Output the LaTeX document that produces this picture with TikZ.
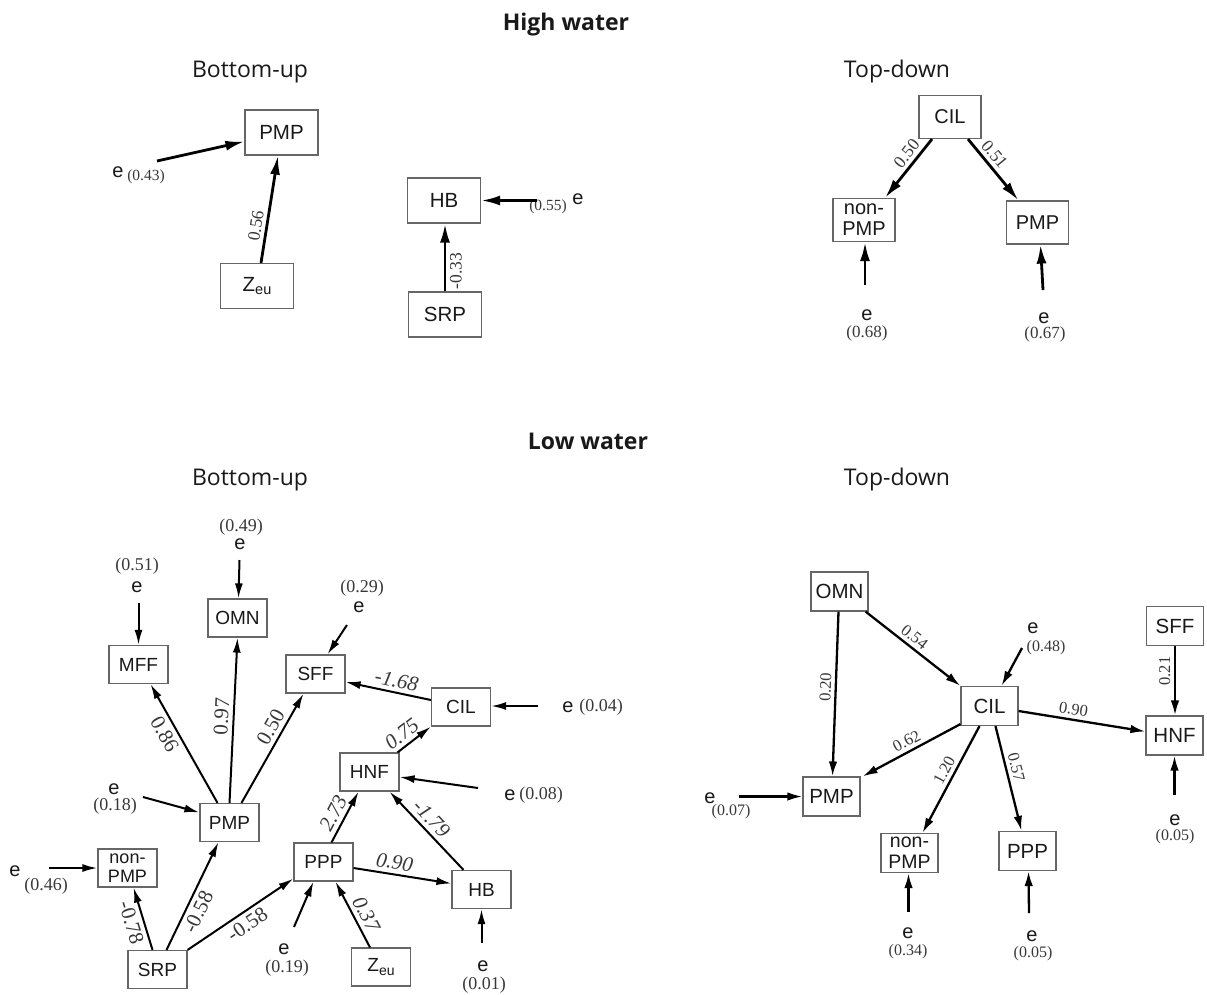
\documentclass[tikz,border=0pt]{standalone}
\usepackage{fontspec}
\setmainfont{Liberation Sans}
\newfontfamily\serifnum{Liberation Serif}
\newfontfamily\titlef{Open Sans}
\usetikzlibrary{arrows.meta,calc}
\definecolor{boxgray}{gray}{0.4}
\definecolor{ink}{gray}{0.1}
\definecolor{numgray}{gray}{0.22}
\begin{document}
\begin{tikzpicture}[x=1pt,y=-1pt,
  box/.style={draw=boxgray,line width=1.2pt,inner sep=0pt,text=ink,align=center},
  boxT/.style={box,minimum width=73pt,minimum height=45pt,font=\fontsize{20.5}{20}\selectfont},
  boxTR/.style={box,minimum width=62pt,minimum height=43pt,font=\fontsize{20}{21}\selectfont},
  boxBL/.style={box,minimum width=59pt,minimum height=38pt,font=\fontsize{19}{19}\selectfont},
  boxBR/.style={box,minimum width=57pt,minimum height=39pt,font=\fontsize{20.5}{20.5}\selectfont},
  arT/.style={line width=2.8pt,-{Latex[length=19pt,width=10pt]}},
  arBL/.style={line width=2pt,-{Latex[length=15pt,width=8pt]}},
  arBR/.style={line width=2.3pt,-{Latex[length=15pt,width=8.5pt]}},
  etxt/.style={font=\fontsize{20}{20}\selectfont,text=ink,inner sep=0pt},
  valT/.style={font=\serifnum\fontsize{15.5}{15.5}\selectfont,text=numgray,inner sep=0pt},
  valTR/.style={font=\serifnum\fontsize{17}{17}\selectfont,text=numgray,inner sep=0pt},
  valBL/.style={font=\serifnum\fontsize{18}{18}\selectfont,text=numgray,inner sep=0pt},
  valBR/.style={font=\serifnum\fontsize{16}{16}\selectfont,text=numgray,inner sep=0pt},
  labT/.style={font=\serifnum\fontsize{17.5}{17.5}\selectfont,text=numgray,sloped,inner sep=3.5pt},
  labBL/.style={font=\serifnum\fontsize{21}{21}\selectfont,text=numgray,sloped,inner sep=4pt},
  labBLi/.style={font=\serifnum\itshape\fontsize{21}{21}\selectfont,text=numgray,sloped,inner sep=4pt},
  labBR/.style={font=\serifnum\fontsize{16.5}{16.5}\selectfont,text=numgray,sloped,inner sep=3.5pt},
  ttl/.style={font=\titlef\fontsize{23}{23}\selectfont,text=ink,anchor=base,inner sep=0pt},
  ttlb/.style={font=\titlef\bfseries\fontsize{23}{23}\selectfont,text=ink,anchor=base,inner sep=0pt}
]
\useasboundingbox[fill=white] (0,0) rectangle (1207,994);

% ---------- titles ----------
\node[ttlb] (hw) at (566,30) {High water};
\node[ttl] (bu1) at (250,77) {Bottom-up};
\node[ttl] (td1) at (897,77) {Top-down};
\node[ttlb] (lw) at (588,449) {Low water};
\node[ttl] (bu2) at (250,485) {Bottom-up};
\node[ttl] (td2) at (897,485) {Top-down};

% ---------- High water, bottom-up ----------
\node[boxT] (tlPMP) at (281.5,132.5) {PMP};
\node[boxT] (tlZ) at (257,286) {Z\raisebox{-0.35ex}{\fontsize{14.5}{14.5}\selectfont eu}};
\node[boxT] (tlHB) at (444,200.5) {HB};
\node[boxT] (tlSRP) at (445,314.5) {SRP};
\coordinate (eTL1) at (157,161);
\coordinate (eTL2) at (537,200.5);
\node[etxt] (eTL1t) at (118,172) {e};
\node[valT] (eTL1v) at (146,177) {(0.43)};
\node[etxt] (eTL2t) at (578,199) {e};
\node[valT] (eTL2v) at (548,207) {(0.55)};
\draw[arT] ($(tlZ.north)+(4,0)$) -- ($(tlPMP.south)+(-3.5,0)$) node[labT,pos=0.33,above] {0.56};
\draw[arT] (eTL1) -- ($(tlPMP.west)+(0,9)$);
\draw[arT] (tlSRP.north) -- (tlSRP.north |- tlHB.south) node[labT,pos=0.3,below] {-0.33};
\draw[arT] (eTL2) -- (tlHB.east);

% ---------- High water, top-down ----------
\node[boxTR] (trCIL) at (950,117) {CIL};
\node[boxTR] (trNon) at (864,220) {non-\\PMP};
\node[boxTR] (trPMP) at (1037.5,222.5) {PMP};
\coordinate (eTR1) at (865,285);
\coordinate (eTR2) at (1043,290);
\node[etxt] (eTR1t) at (867,315) {e};
\node[valTR] (eTR1v) at (867,333) {(0.68)};
\node[etxt] (eTR2t) at (1044,318) {e};
\node[valTR] (eTR2v) at (1045,334) {(0.67)};
\draw[arT] ($(trCIL.south)+(-18,0)$) -- ($(trNon.north)+(21,0)$) node[labT,pos=0.36,above] {0.50};
\draw[arT] ($(trCIL.south)+(18,0)$) -- ($(trPMP.north)+(-19,0)$) node[labT,pos=0.36,above] {0.51};
\draw[arT] (eTR1) -- ($(trNon.south)+(1,0)$);
\draw[arT] (eTR2) -- ($(trPMP.south)+(3,0)$);

% ---------- Low water, bottom-up ----------
\node[boxBL] (blMFF) at (138.5,664.5) {MFF};
\node[boxBL] (blOMN) at (237.5,618) {OMN};
\node[boxBL] (blSFF) at (315.5,674) {SFF};
\node[boxBL] (blCIL) at (461,707) {CIL};
\node[boxBL] (blHNF) at (369.5,772) {HNF};
\node[boxBL] (blPMP) at (229.5,822.5) {PMP};
\node[boxBL,font=\fontsize{18}{19}\selectfont] (blNon) at (127.5,868) {non-\\PMP};
\node[boxBL] (blPPP) at (323.5,862) {PPP};
\node[boxBL] (blHB) at (481.5,889.5) {HB};
\node[boxBL] (blSRP) at (157.5,969.5) {SRP};
\node[boxBL] (blZ) at (381,967) {Z\raisebox{-0.35ex}{\fontsize{14}{14}\selectfont eu}};

\coordinate (eMFF) at (138.5,603);
\coordinate (eOMN) at (239.5,560);
\coordinate (eSFF) at (347,625);
\coordinate (eCIL) at (538,706);
\coordinate (eHNF) at (478,788);
\coordinate (ePMP) at (143,797);
\coordinate (ePPP) at (294,927);
\coordinate (eHB) at (481.5,943);
\coordinate (eNon) at (49,868);

\node[valBL] (eMFFv) at (137,566) {(0.51)};
\node[etxt] (eMFFt) at (137,587) {e};
\node[valBL] (eOMNv) at (241,527) {(0.49)};
\node[etxt] (eOMNt) at (240,544) {e};
\node[valBL] (eSFFv) at (362,588) {(0.29)};
\node[etxt] (eSFFt) at (359,607) {e};
\node[etxt] (eCILt) at (568,707) {e};
\node[valBL] (eCILv) at (601,707) {(0.04)};
\node[etxt] (eHNFt) at (510,795) {e};
\node[valBL] (eHNFv) at (541,795) {(0.08)};
\node[etxt] (ePMPt) at (114,789) {e};
\node[valBL] (ePMPv) at (115,806) {(0.18)};
\node[etxt] (ePPPt) at (284,949) {e};
\node[valBL] (ePPPv) at (287,968) {(0.19)};
\node[etxt] (eHBt) at (483,966) {e};
\node[valBL] (eHBv) at (484,985) {(0.01)};
\node[etxt] (eNont) at (15,871) {e};
\node[valBL] (eNonv) at (46,886) {(0.46)};

\draw[arBL] (eMFF) -- (blMFF.north);
\draw[arBL] (eOMN) -- ($(blOMN.north)+(1,0)$);
\draw[arBL] (eSFF) -- ($(blSFF.north)+(12,0)$);
\draw[arBL] (eCIL) -- (blCIL.east |- eCIL);
\draw[arBL] (eHNF) -- ($(blHNF.east)+(0,5)$);
\draw[arBL] (ePMP) -- ($(blPMP.west)+(0,-10)$);
\draw[arBL] (ePPP) -- ($(blPPP.south)+(-10,0)$);
\draw[arBL] (eHB) -- (blHB.south);
\draw[arBL] (eNon) -- (blNon.west);

\draw[arBL] ($(blCIL.west)+(0,-7)$) -- ($(blSFF.east)+(0,8)$) node[labBLi,pos=0.43,above] {-1.68};
\draw[arBL] ($(blHNF.north)+(28,0)$) -- (blCIL.south west) node[labBLi,pos=0.35,above] {0.75};
\draw[arBL] ($(blPMP.north)+(-12,0)$) -- ($(blMFF.south)+(12,0)$) node[labBL,pos=0.63,below] {0.86};
\draw[arBL] (blPMP.north) -- (blOMN.south) node[labBL,pos=0.52,above] {0.97};
\draw[arBL] ($(blPMP.north)+(12,0)$) -- ($(blSFF.south)+(-12,0)$) node[labBL,pos=0.64,above] {0.50};
\draw[arBL] ($(blPPP.north)+(8,0)$) -- ($(blHNF.south)+(-11,0)$) node[labBLi,pos=0.46,above] {2.73};
\draw[arBL] ($(blHB.north)+(-18,0)$) -- ($(blHNF.south)+(20,0)$) node[labBLi,pos=0.55,above] {-1.79};
\draw[arBL] ($(blPPP.east)+(0,6)$) -- ($(blHB.west)+(0,-6)$) node[labBLi,pos=0.4,above] {0.90};
\draw[arBL] ($(blZ.north)+(-11,0)$) -- ($(blPPP.south)+(12,0)$) node[labBLi,pos=0.42,above] {0.37};
\draw[arBL] ($(blSRP.north)+(-5,0)$) -- ($(blNon.south)+(6,0)$) node[labBL,pos=0.5,below] {-0.78};
\draw[arBL] ($(blSRP.north)+(9,0)$) -- ($(blPMP.south)+(-11,0)$) node[labBL,pos=0.4,below] {-0.58};
\draw[arBL] (blSRP.north east) -- ($(blPPP.south west)+(0,-3)$) node[labBL,pos=0.5,below] {-0.58};

% ---------- Low water, top-down ----------
\node[boxBR] (brOMN) at (839.5,591.5) {OMN};
\node[boxBR] (brSFF) at (1175,626) {SFF};
\node[boxBR] (brCIL) at (989.5,706) {CIL};
\node[boxBR] (brHNF) at (1174.5,735.5) {HNF};
\node[boxBR] (brPMP) at (831.5,796.5) {PMP};
\node[boxBR,font=\fontsize{19.5}{21}\selectfont] (brNon) at (909.5,853) {non-\\PMP};
\node[boxBR] (brPPP) at (1027.5,851) {PPP};

\coordinate (fCIL) at (1022,648);
\coordinate (fPMP) at (739,796.5);
\coordinate (fNon) at (908.5,912);
\coordinate (fPPP) at (1029,913);
\coordinate (fHNF) at (1174.5,795);

\node[etxt] (fCILt) at (1033,628) {e};
\node[valBR] (fCILv) at (1046,648) {(0.48)};
\node[etxt] (fPMPt) at (710,798) {e};
\node[valBR] (fPMPv) at (731,812) {(0.07)};
\node[etxt] (fNont) at (908,933) {e};
\node[valBR] (fNonv) at (908,952) {(0.34)};
\node[etxt] (fPPPt) at (1032,936) {e};
\node[valBR] (fPPPv) at (1033,954) {(0.05)};
\node[etxt] (fHNFt) at (1175,820) {e};
\node[valBR] (fHNFv) at (1175,837) {(0.05)};

\draw[arBR] ($(brOMN.south)+(-1,0)$) -- ($(brPMP.north)+(1,0)$) node[labBR,pos=0.46,above] {0.20};
\draw[arBR] ($(brOMN.south east)+(-3,0)$) -- (brCIL.north west) node[labBR,pos=0.45,above] {0.54};
\draw[arBR] (fCIL) -- ($(brCIL.north)+(12,0)$);
\draw[arBR] ($(brCIL.east)+(0,5)$) -- ($(brHNF.west)+(0,-4)$) node[labBR,pos=0.42,above] {0.90};
\draw[arBR] (brSFF.south) -- (brSFF.south |- brHNF.north) node[labBR,pos=0.36,rotate=180,above] {0.21};
\draw[arBR] ($(brCIL.south west)+(0,-2)$) -- ($(brPMP.north east)+(2,0)$) node[labBR,pos=0.5,above] {0.62};
\draw[arBR] (fPMP) -- (brPMP.west);
\draw[arBR] ($(brCIL.south)+(-10,0)$) -- ($(brNon.north)+(13,0)$) node[labBR,pos=0.46,above] {1.20};
\draw[arBR] ($(brCIL.south)+(6,0)$) -- ($(brPPP.north)+(-6,0)$) node[labBR,pos=0.42,above] {0.57};
\draw[arBR] (fNon) -- ($(brNon.south)+(-1,0)$);
\draw[arBR] (fPPP) -- ($(brPPP.south)+(1,0)$);
\draw[arBR] (fHNF) -- (brHNF.south);
\end{tikzpicture}
\end{document}
